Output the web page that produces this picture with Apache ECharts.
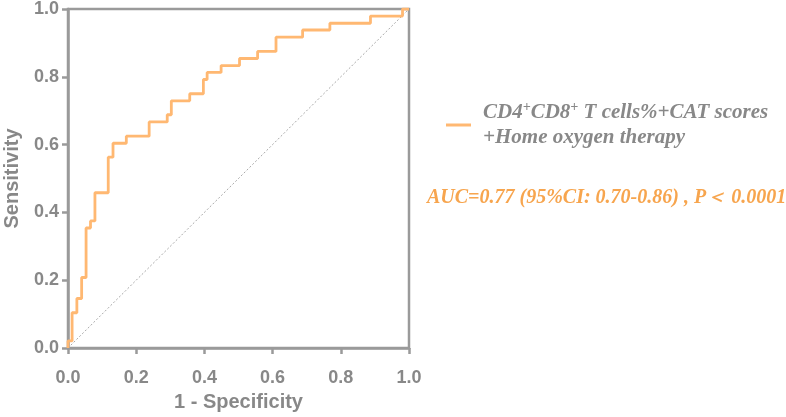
<!DOCTYPE html>
<html>
<head>
<meta charset="utf-8">
<script src="https://cdn.jsdelivr.net/npm/echarts@6/dist/echarts.min.js"></script>
<style>html,body{margin:0;padding:0;background:#fff}#c{width:786px;height:417px}</style>
</head>
<body>
<div id="c"></div>
<script>
// ROC curve vertices (1 - specificity, sensitivity)
var fprVals = [0, 0, 0.012, 0.012, 0.026, 0.026, 0.040, 0.040, 0.053, 0.053, 0.066, 0.066, 0.079, 0.079, 0.118, 0.118, 0.132, 0.132, 0.171, 0.171, 0.238, 0.238, 0.291, 0.291, 0.303, 0.303, 0.357, 0.357, 0.397, 0.397, 0.408, 0.408, 0.449, 0.449, 0.503, 0.503, 0.556, 0.556, 0.610, 0.610, 0.688, 0.688, 0.768, 0.768, 0.887, 0.887, 0.981, 0.981, 1];
var tprVals = [0, 0.021, 0.021, 0.104, 0.104, 0.146, 0.146, 0.208, 0.208, 0.354, 0.354, 0.375, 0.375, 0.458, 0.458, 0.563, 0.563, 0.604, 0.604, 0.625, 0.625, 0.667, 0.667, 0.688, 0.688, 0.729, 0.729, 0.750, 0.750, 0.792, 0.792, 0.813, 0.813, 0.833, 0.833, 0.854, 0.854, 0.875, 0.875, 0.917, 0.917, 0.938, 0.938, 0.958, 0.958, 0.979, 0.979, 1, 1];
var refX = [0, 1];
var refY = [0, 1];
var tickLabels = ['0.0', '0.2', '0.4', '0.6', '0.8', '1.0'];
var seriesName = 'CD4+CD8+ T cells%+CAT scores +Home oxygen therapy';
var aucText = 'AUC=0.77 (95%CI: 0.70-0.86) , P\uFF1C 0.0001';

var gray = '#888888';
var axisGray = '#9a9a9a';
var orange = '#FFB872';
var orangeText = '#F7A54E';

var rocData = fprVals.map(function (x, i) { return [x, tprVals[i]]; });
var refData = refX.map(function (x, i) { return [x, refY[i]]; });

function tickFmt(v) {
  var idx = Math.round(v / 0.2);
  return tickLabels[idx] !== undefined ? tickLabels[idx] : '';
}

var axisCommon = {
  type: 'value', min: 0, max: 1, interval: 0.2,
  axisLine: { show: true, lineStyle: { color: axisGray, width: 2.5 } },
  axisTick: { show: true, length: 6, lineStyle: { color: axisGray, width: 2.5 } },
  splitLine: { show: false },
  nameLocation: 'middle',
  nameTextStyle: { color: gray, fontFamily: 'Liberation Sans, Arial, sans-serif', fontWeight: 'bold', fontSize: 20 }
};

var serif = 'Liberation Serif, Times New Roman, serif';

var chart = echarts.init(document.getElementById('c'), null, { renderer: 'canvas' });
chart.setOption({
  animation: false,
  backgroundColor: '#fff',
  grid: { left: 68, top: 8, width: 341, height: 342, show: true, borderColor: axisGray, borderWidth: 2.5, backgroundColor: 'transparent' },
  xAxis: Object.assign({}, axisCommon, {
    name: '1 - Specificity', nameGap: 44,
    axisLabel: { formatter: tickFmt, color: gray, fontFamily: 'Liberation Sans, Arial, sans-serif', fontWeight: 'bold', fontSize: 18, margin: 21 }
  }),
  yAxis: Object.assign({}, axisCommon, {
    name: 'Sensitivity', nameGap: 46,
    axisLabel: { formatter: tickFmt, color: gray, fontFamily: 'Liberation Sans, Arial, sans-serif', fontWeight: 'bold', fontSize: 18, margin: 9 }
  }),
  legend: {
    left: 441, top: 95, orient: 'vertical',
    data: [seriesName],
    icon: 'rect', itemWidth: 25, itemHeight: 3, itemGap: 10,
    formatter: function () {
      return '{g|}{t|CD4}{s|+}{t|CD8}{s|+}{t| T cells%+CAT scores}\n{g|}{t|+Home oxygen therapy}';
    },
    textStyle: {
      rich: {
        g: { width: 7, lineHeight: 25 },
        t: { color: gray, fontFamily: serif, fontStyle: 'italic', fontWeight: 'bold', fontSize: 21, lineHeight: 25 },
        s: { color: gray, fontFamily: serif, fontStyle: 'italic', fontWeight: 'bold', fontSize: 14, lineHeight: 25, verticalAlign: 'top', padding: [0, 0, 9, 0] }
      }
    }
  },
  graphic: [{
    type: 'text', left: 427, top: 188,
    style: { text: aucText, fill: orangeText, font: 'italic bold 20px "Liberation Serif", "Times New Roman", serif' }
  }],
  series: [{
    type: 'line', name: 'reference', data: refData, symbol: 'none', silent: true,
    lineStyle: { color: '#a8a8a8', width: 1, type: [2, 2] }, z: 1
  }, {
    type: 'line', name: seriesName, data: rocData, symbol: 'none',
    lineStyle: { color: orange, width: 2.8 }, itemStyle: { color: orange }, z: 3
  }]
});
</script>
</body>
</html>
